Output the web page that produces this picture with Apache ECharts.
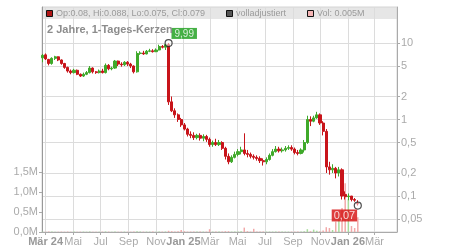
<!DOCTYPE html>
<html><head><meta charset="utf-8">
<script src="https://cdn.jsdelivr.net/npm/echarts@6/dist/echarts.min.js"></script>
<style>html,body{margin:0;padding:0;background:#fff}#c{width:450px;height:250px}</style>
</head><body><div id="c"></div>
<script>
// ---- data (weekly candles) ----
const dates = [
'2024-02-23','2024-03-01','2024-03-08','2024-03-15','2024-03-22','2024-03-29','2024-04-05','2024-04-12','2024-04-19','2024-04-26',
'2024-05-03','2024-05-10','2024-05-17','2024-05-24','2024-05-31','2024-06-07','2024-06-14','2024-06-21','2024-06-28','2024-07-05',
'2024-07-12','2024-07-19','2024-07-26','2024-08-02','2024-08-09','2024-08-16','2024-08-23','2024-08-30','2024-09-06','2024-09-13',
'2024-09-20','2024-09-27','2024-10-04','2024-10-11','2024-10-18','2024-10-25','2024-11-01','2024-11-08','2024-11-15','2024-11-22',
'2024-11-29','2024-12-06','2024-12-13','2024-12-20','2024-12-27','2025-01-03','2025-01-10','2025-01-17','2025-01-24','2025-01-31',
'2025-02-07','2025-02-14','2025-02-21','2025-02-28','2025-03-07','2025-03-14','2025-03-21','2025-03-28','2025-04-04','2025-04-11',
'2025-04-18','2025-04-25','2025-05-02','2025-05-09','2025-05-16','2025-05-23','2025-05-30','2025-06-06','2025-06-13','2025-06-20',
'2025-06-27','2025-07-04','2025-07-11','2025-07-18','2025-07-25','2025-08-01','2025-08-08','2025-08-15','2025-08-22','2025-08-29',
'2025-09-05','2025-09-12','2025-09-19','2025-09-26','2025-10-03','2025-10-10','2025-10-17','2025-10-24','2025-10-31','2025-11-07',
'2025-11-14','2025-11-21','2025-11-28','2025-12-05','2025-12-12','2025-12-19','2025-12-26','2026-01-02','2026-01-09','2026-01-16',
'2026-01-23'];
const opens = [
6.4,7.0,6.1,5.4,6.3,6.6,6.0,5.4,4.8,4.3,
4.1,4.4,3.9,3.7,3.9,4.1,4.7,4.2,4.1,4.3,
4.1,5.1,4.6,4.7,5.8,5.3,5.2,5.6,5.3,5.0,
4.2,7.3,7.4,7.2,7.8,7.9,7.7,8.1,9.0,8.8,
9.5,1.7,1.3,1.15,1.0,0.85,0.75,0.64,0.62,0.58,
0.62,0.57,0.6,0.55,0.47,0.5,0.47,0.5,0.42,0.33,
0.28,0.32,0.35,0.38,0.4,0.36,0.35,0.33,0.32,0.31,
0.29,0.28,0.3,0.34,0.38,0.41,0.39,0.4,0.42,0.43,
0.41,0.37,0.36,0.4,0.5,1.0,0.95,1.05,1.15,0.9,
0.7,0.24,0.22,0.23,0.2,0.22,0.105,0.098,0.1,0.09,
0.08];
const closes = [
6.9,6.2,5.4,6.3,6.6,6.0,5.4,4.8,4.3,4.1,
4.4,3.9,3.7,3.9,4.1,4.7,4.2,4.1,4.3,4.1,
5.1,4.6,4.7,5.8,5.3,5.2,5.6,5.3,5.0,4.2,
7.3,7.4,7.2,7.8,7.9,7.7,8.1,9.0,8.8,9.5,
1.7,1.3,1.15,1.0,0.85,0.75,0.64,0.62,0.58,0.62,
0.57,0.6,0.55,0.47,0.5,0.47,0.5,0.42,0.33,0.28,
0.32,0.35,0.38,0.4,0.36,0.35,0.33,0.32,0.31,0.29,
0.28,0.3,0.34,0.38,0.41,0.39,0.4,0.42,0.43,0.41,
0.37,0.36,0.4,0.5,1.0,0.95,1.05,1.15,0.9,0.7,
0.24,0.22,0.23,0.2,0.22,0.1,0.098,0.1,0.09,0.088,
0.079];
const lows = [
5.6,6.0,5.1,5.2,6.0,5.8,5.2,4.6,4.1,3.9,
4.0,3.8,3.6,3.6,3.8,4.0,4.0,3.95,4.0,4.0,
4.0,4.4,4.4,4.6,5.0,4.9,5.0,5.0,4.7,4.0,
4.1,7.0,7.0,7.1,7.6,7.5,7.6,8.0,8.5,8.1,
1.55,1.25,1.05,0.93,0.8,0.72,0.6,0.57,0.54,0.55,
0.53,0.52,0.51,0.44,0.44,0.45,0.45,0.4,0.3,0.26,
0.27,0.31,0.33,0.35,0.34,0.32,0.31,0.3,0.29,0.27,
0.25,0.26,0.29,0.33,0.37,0.37,0.37,0.38,0.4,0.39,
0.35,0.34,0.35,0.37,0.48,0.82,0.92,1.02,0.85,0.62,
0.2,0.19,0.2,0.17,0.18,0.09,0.09,0.088,0.085,0.084,
0.075];
const highs = [
7.2,7.3,6.2,6.5,6.8,6.7,6.1,5.5,4.9,4.5,
4.6,4.5,4.0,4.1,4.3,5.0,4.8,4.3,4.5,4.6,
5.4,5.3,4.9,6.0,5.9,5.6,5.8,5.8,5.5,5.1,
7.8,7.8,7.9,8.1,8.4,8.3,8.5,9.5,9.4,9.7,
9.99,2.0,1.4,1.2,1.05,0.9,0.78,0.7,0.68,0.65,
0.66,0.64,0.63,0.58,0.53,0.56,0.54,0.52,0.44,0.36,
0.34,0.38,0.41,0.44,0.66,0.4,0.37,0.35,0.34,0.33,
0.31,0.32,0.36,0.41,0.45,0.44,0.43,0.45,0.46,0.46,
0.43,0.4,0.42,0.54,1.12,1.1,1.12,1.26,1.2,0.95,
0.75,0.28,0.26,0.24,0.24,0.23,0.115,0.108,0.1,0.094,
0.088];
// volume in millions
const volumes = [
0.01,0.008,0.012,0.01,0.006,0.009,0.01,0.007,0.011,0.008,
0.01,0.006,0.008,0.01,0.007,0.012,0.009,0.006,0.008,0.01,
0.014,0.01,0.007,0.012,0.009,0.008,0.01,0.007,0.009,0.012,
0.02,0.012,0.009,0.01,0.008,0.011,0.009,0.012,0.01,0.012,
0.03,0.02,0.015,0.02,0.05,0.02,0.01,0.01,0.01,0.01,
0.01,0.01,0.01,0.07,0.01,0.01,0.01,0.01,0.02,0.02,
0.01,0.01,0.01,0.02,0.11,0.02,0.01,0.08,0.01,0.01,
0.01,0.01,0.01,0.01,0.01,0.01,0.01,0.01,0.01,0.01,
0.01,0.01,0.01,0.02,0.07,0.02,0.06,0.03,0.02,0.04,
0.12,0.1,0.05,0.26,0.42,0.6,1.22,0.82,0.15,0.1,
0.37];
const priceTicks = [0.05,0.1,0.2,0.5,1,2,5,10];
const priceTickLabels = ['0,05','0,1','0,2','0,5','1','2','5','10'];
const volumeTicks = [0,0.5,1,1.5];
const volumeTickLabels = ['0,0M','0,5M','1,0M','1,5M'];
const monthTicks = ['2024-03-01','2024-05-01','2024-07-01','2024-09-01','2024-11-01','2025-01-01','2025-03-01','2025-05-01','2025-07-01','2025-09-01','2025-11-01','2026-01-01','2026-03-01'];
const monthLabels = ['Mär 24','Mai','Jul','Sep','Nov','Jan 25','Mär','Mai','Jul','Sep','Nov','Jan 26','Mär'];
const yearLabels = ['Mär 24','Jan 25','Jan 26'];
const titleText = '2 Jahre, 1-Tages-Kerzen';
const legendTexts = ['Op:0.08, Hi:0.088, Lo:0.075, Cl:0.079','volladjustiert','Vol: 0.005M'];

// ---- chart ----
const FONT = 'Liberation Sans, Arial, sans-serif';
const UP = '#3fa92a', DOWN = '#c8141a';
const VOL_UP = '#a8dc9c', VOL_DOWN = '#f2a9a9';
const ts = s => Date.UTC(+s.slice(0,4), +s.slice(5,7)-1, +s.slice(8,10));
const candleData = dates.map((d,i)=>[ts(d), opens[i], closes[i], lows[i], highs[i]]);
const volData = dates.map((d,i)=>({value:[ts(d), volumes[i]], itemStyle:{color: closes[i]>=opens[i]?VOL_UP:VOL_DOWN}}));
const hiIdx = highs.indexOf(Math.max.apply(null, highs));
const lastIdx = dates.length-1;
const fmt2 = v => (Math.floor(v*100+1e-9)/100).toFixed(2).replace('.',',');
const monthTs = monthTicks.map(ts);

const chart = echarts.init(document.getElementById('c'), null, {renderer:'canvas'});
chart.setOption({
  animation:false,
  textStyle:{fontFamily:FONT},
  grid:{left:42,right:53,top:7,bottom:18,show:true,borderColor:'#d4d4d4',borderWidth:1},
  xAxis:{
    type:'value', min:ts('2024-02-22'), max:ts('2026-04-20'), scale:true,
    axisLine:{lineStyle:{color:'#aaaaaa'}},
    axisTick:{show:true,length:3,lineStyle:{color:'#aaaaaa'},customValues:monthTs},
    splitLine:{show:true,lineStyle:{color:'#dcdcdc',width:1}},
    axisLabel:{customValues:monthTs,margin:4,fontSize:11,color:'#aaaaaa',fontFamily:FONT,showMinLabel:true,showMaxLabel:true,
      formatter:function(v){
        let best=0,bd=Infinity;monthTs.forEach((t,k)=>{const dd=Math.abs(t-v);if(dd<bd){bd=dd;best=k;}});
        const s = monthLabels[best];
        return yearLabels.indexOf(s)>=0 ? '{b|'+s+'}' : s;
      },
      rich:{b:{fontWeight:'bold',color:'#999999',fontSize:11,fontFamily:FONT}}
    }
  },
  yAxis:[
    {type:'log', position:'right', min:0.03384, max:29.55, logBase:10,
      axisLine:{show:true,lineStyle:{color:'#aaaaaa'}},
      axisTick:{show:true,length:3,lineStyle:{color:'#aaaaaa'},customValues:priceTicks},
      splitLine:{show:true,lineStyle:{color:'#dcdcdc',width:1}},
      axisLabel:{customValues:priceTicks,margin:4,fontSize:11,color:'#aaaaaa',fontFamily:FONT,
        formatter:function(v){const i=priceTicks.findIndex(t=>Math.abs(t-v)/t<1e-6);return i>=0?priceTickLabels[i]:'';}}
    },
    {type:'value', position:'left', min:0, max:5.625,
      axisLine:{show:true,lineStyle:{color:'#999999'}},
      axisTick:{show:true,length:3,lineStyle:{color:'#aaaaaa'},customValues:volumeTicks},
      splitLine:{show:false},
      axisLabel:{customValues:volumeTicks,margin:4,fontSize:11,color:'#aaaaaa',fontFamily:FONT,
        formatter:function(v){const i=volumeTicks.findIndex(t=>Math.abs(t-v)<1e-9);return i>=0?volumeTickLabels[i]:'';}}
    }
  ],
  series:[
    {type:'bar', yAxisIndex:1, data:volData, barWidth:1.5, z:1},
    {type:'candlestick', yAxisIndex:0, data:candleData, barWidth:2.6, z:3,
      itemStyle:{color:UP,color0:DOWN,borderColor:UP,borderColor0:DOWN,borderWidth:1}},
    {type:'scatter', yAxisIndex:0, z:5, symbol:'circle', symbolSize:7,
      itemStyle:{color:'rgba(255,255,255,0.6)',borderColor:'#222',borderWidth:1.2},
      data:[
        {value:[ts(dates[hiIdx]),highs[hiIdx]],label:{show:true,formatter:fmt2(highs[hiIdx]),position:[7,-11],
          backgroundColor:'#169c16',color:'#fff',fontSize:10,padding:[1,3,0,3],fontFamily:FONT}},
        {value:[ts(dates[lastIdx]),lows[lastIdx]],label:{show:true,formatter:fmt2(lows[lastIdx]),position:[-22,8],
          backgroundColor:'#d60c0c',color:'#fff',fontSize:11,padding:[1,2,0,2],fontFamily:FONT}}
      ]}
  ],
  graphic:[
    {type:'rect',z:-10,shape:{x:42,y:7,width:355,height:12},style:{fill:'#e6e6e6'},silent:true},
    {type:'rect',z:10,shape:{x:46.5,y:10.5,width:6,height:6},style:{fill:'#b01515',stroke:'#111',lineWidth:1}},
    {type:'text',z:10,x:56,y:13.5,style:{text:legendTexts[0],fill:'#9a9a9a',font:'9px '+FONT,textVerticalAlign:'middle'}},
    {type:'rect',z:10,shape:{x:226.5,y:10.5,width:6,height:6},style:{fill:'#555555',stroke:'#111',lineWidth:1}},
    {type:'text',z:10,x:236,y:13.5,style:{text:legendTexts[1],fill:'#9a9a9a',font:'9px '+FONT,textVerticalAlign:'middle'}},
    {type:'rect',z:10,shape:{x:307.5,y:10.5,width:6,height:6},style:{fill:'#f4b4b4',stroke:'#111',lineWidth:1}},
    {type:'text',z:10,x:317,y:13.5,style:{text:legendTexts[2],fill:'#9a9a9a',font:'9px '+FONT,textVerticalAlign:'middle'}},
    {type:'text',z:10,x:47,y:30,style:{text:titleText,fill:'#8c8c8c',font:'bold 11px '+FONT,textVerticalAlign:'middle'}}
  ]
});
</script></body></html>
